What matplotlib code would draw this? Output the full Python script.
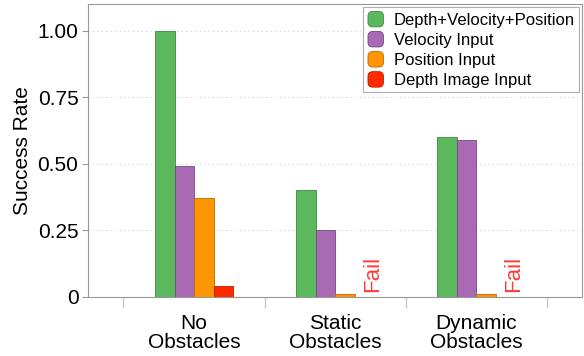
import numpy as np
import matplotlib.pyplot as plt
from matplotlib.patches import FancyBboxPatch
from matplotlib.legend_handler import HandlerPatch, update_from_first_child
from matplotlib.container import BarContainer

plt.rcParams['font.family'] = ['Liberation Sans', 'DejaVu Sans']

groups = ['No\nObstacles', 'Static\nObstacles', 'Dynamic\nObstacles']
series = ['Depth+Velocity+Position', 'Velocity Input', 'Position Input', 'Depth Image Input']
values = {
    'Depth+Velocity+Position': [1.00, 0.40, 0.60],
    'Velocity Input': [0.49, 0.25, 0.59],
    'Position Input': [0.37, 0.01, 0.01],
    'Depth Image Input': [0.04, 0.0, 0.0],
}
failed = [False, True, True]  # depth image input failed in these groups
colors = ['#5cb85c', '#a86ab2', '#ff9500', '#ff2a00']
edges = ['#3d8a3d', '#7a4585', '#b86a00', '#b81e00']
yticks = [0, 0.25, 0.5, 0.75, 1.0]
yticklabels = ['0', '0.25', '0.50', '0.75', '1.00']


def rounded_box(legend, orig_handle, xdescent, ydescent, width, height, fontsize):
    s = min(width, height)
    return FancyBboxPatch((-xdescent + (width - s) / 2, -ydescent + (height - s) / 2), s, s,
                          boxstyle='round,pad=0,rounding_size=%f' % (s * 0.3))


fig = plt.figure(figsize=(5.84, 3.56), dpi=100)
ax = fig.add_axes([0.151, 0.166, 0.846, 0.823])

x = np.arange(len(groups))
w = 0.138
for i, s in enumerate(series):
    ax.bar(x + (i - 1.5) * w, values[s], w, color=colors[i], edgecolor=edges[i],
           linewidth=0.6, label=s, zorder=3)

# "Fail" markers where the depth-image model never succeeded
for j, f in enumerate(failed):
    if f:
        ax.text(x[j] + 1.5 * w + 0.06, 0.02, 'Fail', rotation=90, color='#ff3a3a',
                fontsize=16, ha='center', va='bottom')

ax.set_xlim(-0.75, 2.75)
ax.set_ylim(0, 1.1)
ax.set_yticks(yticks)
ax.set_yticklabels(yticklabels, fontsize=15)
ax.tick_params(axis='y', length=4, width=0.8, color='#999999', pad=3)
ax.set_xticks(x)
ax.set_xticklabels(groups, fontsize=15, linespacing=1.05)
ax.tick_params(axis='x', length=0, pad=12)
ax.set_xticks(np.arange(-0.5, 3, 1), minor=True)
ax.tick_params(axis='x', which='minor', length=8, width=1, color='#cccccc', direction='out')
ax.set_ylabel('Success Rate', fontsize=15, labelpad=4)
ax.yaxis.grid(True, linestyle=(0, (1, 3)), color='#cccccc', linewidth=0.8)
ax.set_axisbelow(True)
for sp in ax.spines.values():
    sp.set_color('#999999')

handler = HandlerPatch(patch_func=rounded_box, update_func=update_from_first_child)
leg = ax.legend(loc='upper right', fontsize=12, frameon=True, fancybox=False,
                handlelength=1.05, handleheight=1.05, handletextpad=0.55,
                borderpad=0.25, labelspacing=0.22, borderaxespad=0.2,
                handler_map={BarContainer: handler})
leg.get_frame().set_edgecolor('#999999')
leg.get_frame().set_linewidth(0.8)

fig.savefig('out.png', dpi=100)
